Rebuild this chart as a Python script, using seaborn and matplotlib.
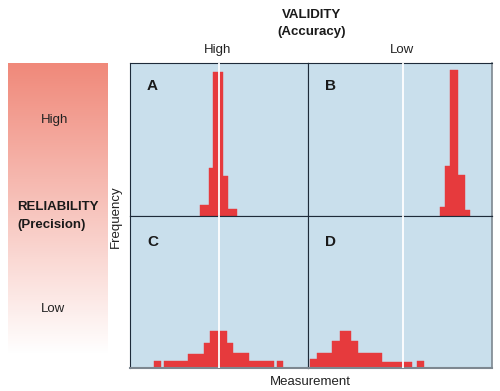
import numpy as np
import pandas as pd
import matplotlib
matplotlib.use("Agg")
import matplotlib.pyplot as plt
import seaborn as sns
from matplotlib.colors import LinearSegmentedColormap

sns.set_theme(style="white")
plt.rcParams['font.family'] = ['Liberation Sans', 'DejaVu Sans']

# ---------------- data (measurement bins and frequencies) ----------------
panel_labels = ["A", "B", "C", "D"]

edges_A = [70, 79, 83.3, 92.7, 98.3, 106.7]
freq_A = [11, 48, 143, 40, 7]

edges_B = [132, 137, 142, 150.3, 157, 162]
freq_B = [9, 50, 145, 41, 6]

edges_C = [24, 30.7, 34, 58.3, 74, 80, 97.3, 103.3, 119.3, 144, 146.7, 152.7]
freq_C = [7, 0, 7, 14, 25, 37, 25, 15, 7, 0, 7]

edges_D = [2, 8.7, 23.7, 32, 43, 49.7, 73.7, 104.3, 109.3, 116]
freq_D = [9, 15, 27, 37, 27, 15, 6, 0, 7]

true_value_left = 89.2
true_value_right = 94.8

column_labels = ["High", "Low"]
row_labels = ["High", "Low"]

# ---------------- styling ----------------
RED = "#e63a3d"
BG = "#c9dfec"
DARK = "#1e2b3a"
GRAY = "#7d8790"

W, H = 500, 391
fig = plt.figure(figsize=(W / 100, H / 100), dpi=100)

def fx(px):
    return px / W

def fy(py):
    return 1 - py / H

# gradient bar on the left
gax = fig.add_axes([fx(8), fy(368), fx(99), (368 - 63) / H])
n = 300
t = np.clip(np.linspace(0, 1, n) / 0.955, 0, 1)
grad = t.reshape(-1, 1)
cmap = LinearSegmentedColormap.from_list("salmon", ["#f0897a", "#ffffff"])
gax.imshow(grad, aspect="auto", cmap=cmap, vmin=0, vmax=1, extent=[0, 1, 0, 1], origin="upper")
gax.set_axis_off()

# 2x2 panel grid
gs = fig.add_gridspec(2, 2, left=fx(130), right=fx(492), top=fy(63), bottom=fy(368),
                      width_ratios=[178, 184], height_ratios=[153, 152],
                      wspace=0, hspace=0)

panels = {
    "A": (0, 0, edges_A, freq_A, true_value_left, 178),
    "B": (0, 1, edges_B, freq_B, true_value_right, 184),
    "C": (1, 0, edges_C, freq_C, true_value_left, 178),
    "D": (1, 1, edges_D, freq_D, true_value_right, 184),
}

for lab in panel_labels:
    r, c, edges, freq, tv, xmax = panels[lab]
    ax = fig.add_subplot(gs[r, c])
    ax.set_facecolor(BG)
    e = np.array(edges, dtype=float)
    centers = (e[:-1] + e[1:]) / 2
    df = pd.DataFrame({"measurement": centers, "frequency": freq})
    sns.histplot(data=df, x="measurement", weights="frequency", bins=list(e), ax=ax,
                 color=RED, alpha=1, edgecolor=RED, linewidth=0.3, zorder=2)
    ax.axvline(tv, color="white", lw=1.3, zorder=3)
    ax.set_xlim(0, xmax)
    ax.set_ylim(0, 152)
    ax.set_xticks([])
    ax.set_yticks([])
    ax.set_xlabel("")
    ax.set_ylabel("")
    for s in ax.spines.values():
        s.set_color(DARK)
        s.set_linewidth(0.8)
        s.set_visible(True)
    if c == 1:
        ax.spines["right"].set_color(GRAY)
        ax.spines["right"].set_linewidth(1.2)
    if r == 1:
        ax.spines["bottom"].set_color(GRAY)
        ax.spines["bottom"].set_linewidth(1.5)
    ax.text(0.095, 0.85 if r == 0 else 0.83, lab, transform=ax.transAxes,
            fontsize=11, fontweight="bold", color="#1a1a1a", ha="left", va="center")

# titles
fig.text(fx(312), fy(15), "VALIDITY", ha="center", va="center", fontsize=9.5,
         fontweight="bold", color="#1a1a1a")
fig.text(fx(312), fy(32), "(Accuracy)", ha="center", va="center", fontsize=9.5,
         fontweight="bold", color="#1a1a1a")
fig.text(fx(218), fy(50), column_labels[0], ha="center", va="center", fontsize=9.5, color="#222222")
fig.text(fx(402), fy(50), column_labels[1], ha="center", va="center", fontsize=9.5, color="#222222")

fig.text(fx(55), fy(120), row_labels[0], ha="center", va="center", fontsize=9.5, color="#222222")
fig.text(fx(17), fy(207), "RELIABILITY", ha="left", va="center", fontsize=9.5,
         fontweight="bold", color="#1a1a1a")
fig.text(fx(17), fy(225), "(Precision)", ha="left", va="center", fontsize=9.5,
         fontweight="bold", color="#1a1a1a")
fig.text(fx(53), fy(309), row_labels[1], ha="center", va="center", fontsize=9.5, color="#222222")

fig.text(fx(116), fy(217), "Frequency", ha="center", va="center", rotation=90,
         fontsize=9.5, color="#222222")
fig.text(fx(310), fy(382), "Measurement", ha="center", va="center", fontsize=9.5, color="#222222")

fig.savefig("out.png", dpi=100)
